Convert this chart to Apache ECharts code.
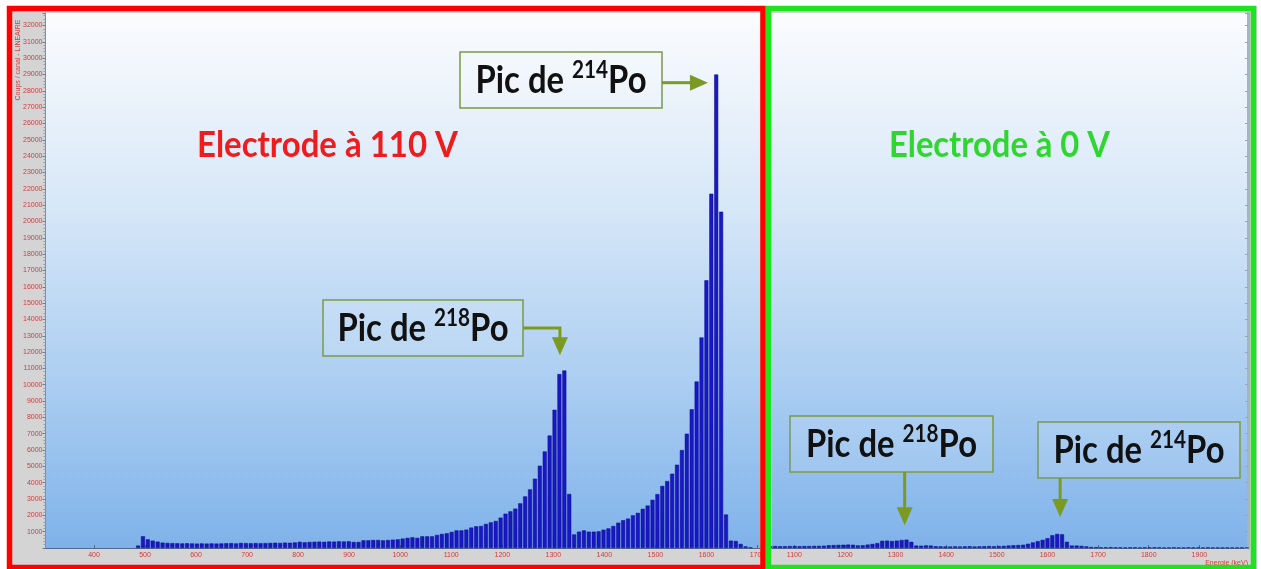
<!DOCTYPE html>
<html>
<head>
<meta charset="utf-8">
<title>Spectres alpha – électrode à 110 V et à 0 V</title>
<script src="https://cdn.jsdelivr.net/npm/echarts@6/dist/echarts.min.js"></script>
<style>
  html, body { margin: 0; padding: 0; background: #ffffff; }
  #chart { width: 1261px; height: 569px; }
</style>
</head>
<body>
<div id="chart"></div>
<script>
// ---- Spectrum data -------------------------------------------------------
// Channel groups are binWidth keV wide; index i sits at binStart + i * binWidth.
const binStart = 486.4;
const binWidth = 9.6;

// Electrode at 110 V (counts per channel group, from index 0)
const countsBiased = [
  150,
  720, 530, 450, 390, 330, 310, 300, 290, 280, 290, 280, 270, 280, 270, 280, 270, 280, 290, 300, 280,
  310, 300, 290, 300, 290, 300, 310, 320, 310, 330, 320, 340, 380, 350, 370, 380, 390, 380, 400, 390,
  410, 400, 410, 370, 370, 470, 470, 490, 490, 470, 490, 510, 530, 575, 620, 655, 620, 715, 715, 715,
  800, 860, 900, 985, 1080, 1080, 1125, 1250, 1330, 1350, 1475, 1570, 1655, 1860, 2100, 2245, 2410,
  2735, 3160, 3590, 4245, 5040, 5915, 6890, 8465, 10650, 10870, 3310,
  830, 1000, 1080, 1000, 1000, 1020, 1120, 1200, 1350, 1550, 1700, 1800, 2000, 2150, 2400, 2600,
  2950, 3300, 3800, 4100, 4550, 5100, 6000, 7000, 8500, 10200, 12900, 16400, 21700, 29000, 20600,
  2050, 450, 430, 250, 100, 40
];

// Electrode at 0 V (counts per channel group, starting at index groundedFirstBin)
const groundedFirstBin = 59;
const countsGrounded = [
  110, 120, 110, 110, 120, 120, 110, 120, 120, 130, 130, 140, 170, 180, 190, 200, 210, 200, 160, 170,
  210, 250, 300, 440, 450, 430, 450, 490, 510, 380, 150, 140, 160, 150, 110,
  100, 90, 90, 100, 90, 100, 110, 90, 100, 110, 120, 110, 120, 130,
  150, 170, 180, 200, 260, 340, 420, 500, 600, 780, 860, 840, 380, 150, 150, 130, 100, 60,
  50, 40, 40, 50, 40, 40, 30, 40, 40, 30, 40, 30, 40, 40, 30, 30, 40, 30, 30, 40, 30, 30, 30, 40,
  30, 30, 20, 30, 30, 30, 30, 20
];

// Axis ticks
const xTicksBiased = [400, 500, 600, 700, 800, 900, 1000, 1100, 1200, 1300, 1400, 1500, 1600, 1700];
const xTicksGrounded = [1100, 1200, 1300, 1400, 1500, 1600, 1700, 1800, 1900];
const yAxisName = 'Coups / canal - LINEAIRE';
const xAxisName = 'Energie (keV)';

// Peak annotations: label parts and the (energy, counts) point each arrow points to
const peakNotes = [
  { panel: 0, isotope: '214', tip: [1603, 28500], box: { x: 460, y: 52, w: 202, h: 56 }, route: 'side' },
  { panel: 0, isotope: '218', tip: [1313, 11800], box: { x: 323, y: 300, w: 200, h: 56 }, route: 'side-down' },
  { panel: 1, isotope: '218', tip: [1318, 1400], box: { x: 790, y: 416, w: 203, h: 56 }, route: 'down' },
  { panel: 1, isotope: '214', tip: [1625, 1900], box: { x: 1038, y: 422, w: 202, h: 56 }, route: 'down' }
];
const panelTitles = [
  { text: 'Electrode à 110 V', color: '#ee1c1c', cx: 327.5, cy: 145, w: 261 },
  { text: 'Electrode à 0 V', color: '#2fd62f', cx: 999.5, cy: 145, w: 221 }
];

// ---- Helpers ---------------------------------------------------------------
const toPairs = (counts, first) => counts.map((c, i) => [binStart + (first + i) * binWidth, c]);

const measureCtx = document.createElement('canvas').getContext('2d');
function textWidth(str, font) { measureCtx.font = font; return measureCtx.measureText(str).width; }

const TITLE_FONT = 'Lato, "Open Sans", "Liberation Sans", sans-serif';
const AXIS_FONT = '"Liberation Sans Narrow", "Arial Narrow", "Liberation Sans", Arial, sans-serif';
const LABEL_RED = '#d43a3a';
const ARROW = '#7a9a22';
const BOX_LINE = '#7b9a45';

const plotFill = {
  type: 'linear', x: 0, y: 0, x2: 0, y2: 1,
  colorStops: [
    { offset: 0, color: '#fbfcfe' },
    { offset: 0.35, color: '#d8e8f8' },
    { offset: 0.7, color: '#aacdf1' },
    { offset: 1, color: '#7fb2ea' }
  ]
};

const plainNumber = (v) => String(Math.round(v));
const axisLabelBase = { color: LABEL_RED, fontSize: 7, fontFamily: AXIS_FONT, formatter: plainNumber };

const chart = echarts.init(document.getElementById('chart'), null, { renderer: 'canvas', width: 1261, height: 569 });

chart.setOption({
  backgroundColor: '#ffffff',
  animation: false,
  grid: [
    { left: 45.5, top: 13, width: 714.5, height: 535, show: true, backgroundColor: plotFill, borderWidth: 0 },
    { left: 772, top: 13, width: 476, height: 535, show: true, backgroundColor: plotFill, borderWidth: 0 }
  ],
  xAxis: [
    {
      type: 'value', gridIndex: 0, min: 305, max: 1705,
      axisLine: { show: true, onZero: false, lineStyle: { color: '#53698a', width: 1 } },
      axisTick: { show: true, inside: true, length: 3, customValues: xTicksBiased, lineStyle: { color: '#53698a' } },
      axisLabel: Object.assign({ customValues: xTicksBiased, margin: 4 }, axisLabelBase),
      splitLine: { show: false }
    },
    {
      type: 'value', gridIndex: 1, min: 1056, max: 1996,
      axisLine: { show: true, onZero: false, lineStyle: { color: '#53698a', width: 1 } },
      axisTick: { show: true, inside: true, length: 3, customValues: xTicksGrounded, lineStyle: { color: '#53698a' } },
      axisLabel: Object.assign({ customValues: xTicksGrounded, margin: 4 }, axisLabelBase),
      splitLine: { show: false }
    }
  ],
  yAxis: [
    {
      type: 'value', gridIndex: 0, min: 0, max: 32768, interval: 1000,
      axisLine: { show: true, lineStyle: { color: '#7d8fa8', width: 1 } },
      axisTick: { show: true, length: 3, lineStyle: { color: '#6d7f98' } },
      minorTick: { show: true, splitNumber: 5, length: 2, lineStyle: { color: '#8d9db3' } },
      axisLabel: Object.assign({ showMinLabel: false, showMaxLabel: false, margin: 3 }, axisLabelBase),
      splitLine: { show: false }
    },
    {
      type: 'value', gridIndex: 1, position: 'right', min: 0, max: 32768, interval: 1000,
      axisLine: { show: true, lineStyle: { color: '#a9b2bf', width: 3 } },
      axisTick: { show: true, inside: true, length: 3, lineStyle: { color: '#9aa5b5' } },
      axisLabel: { show: false },
      splitLine: { show: false }
    }
  ],
  series: [
    {
      type: 'bar', xAxisIndex: 0, yAxisIndex: 0, barWidth: 4,
      data: toPairs(countsBiased, 0),
      itemStyle: { color: '#1818c6', borderColor: '#0e0e88', borderWidth: 0.5 }
    },
    {
      type: 'bar', xAxisIndex: 1, yAxisIndex: 1, barWidth: 4,
      data: toPairs(countsGrounded, groundedFirstBin),
      itemStyle: { color: '#1818c6', borderColor: '#0e0e88', borderWidth: 0.5 }
    }
  ]
});

// ---- Overlay: frames, titles, labelled arrows -----------------------------
function arrow(points, lineW, headLen, headHalf) {
  const n = points.length;
  const [x1, y1] = points[n - 2];
  const [x2, y2] = points[n - 1];
  const L = Math.hypot(x2 - x1, y2 - y1) || 1;
  const ux = (x2 - x1) / L, uy = (y2 - y1) / L;
  const bx = x2 - ux * headLen, by = y2 - uy * headLen;
  const shaft = points.slice(0, n - 1).concat([[bx + ux, by + uy]]);
  return [
    { type: 'polyline', z: 60, silent: true, shape: { points: shaft }, style: { stroke: ARROW, lineWidth: lineW, fill: null } },
    { type: 'polygon', z: 60, silent: true,
      shape: { points: [[x2, y2], [bx - uy * headHalf, by + ux * headHalf], [bx + uy * headHalf, by - ux * headHalf]] },
      style: { fill: ARROW } }
  ];
}

const NOTE_SIZE = 38, SUP_SIZE = 24;
const noteFont = (s) => `bold ${s}px ${TITLE_FONT}`;

const overlay = [
  // grey instrument background inside the frames
  { type: 'rect', z: -5, silent: true, shape: { x: 8, y: 6, width: 1249, height: 563 }, style: { fill: '#d4d4d4' } },
  // y axis name
  { type: 'text', z: 20, silent: true, x: 18, y: 60, rotation: Math.PI / 2,
    style: { text: yAxisName, fill: LABEL_RED, font: `7px ${AXIS_FONT}`, align: 'center', verticalAlign: 'middle' } },
  // x axis name of the right panel
  { type: 'text', z: 20, silent: true, x: 1248, y: 563,
    style: { text: xAxisName, fill: LABEL_RED, font: `7px ${AXIS_FONT}`, align: 'right', verticalAlign: 'middle' } }
];

panelTitles.forEach((t) => {
  const f = `bold 36px ${TITLE_FONT}`;
  const s = t.w / textWidth(t.text, f);
  overlay.push({ type: 'text', z: 40, silent: true, x: t.cx, y: t.cy, scaleX: s,
    style: { text: t.text, fill: t.color, font: f, align: 'center', verticalAlign: 'middle' } });
});

peakNotes.forEach((p) => {
  const b = p.box;
  overlay.push({ type: 'rect', z: 45, silent: true, shape: { x: b.x, y: b.y, width: b.w, height: b.h },
    style: { fill: 'rgba(255,255,255,0.12)', stroke: BOX_LINE, lineWidth: 1.5 } });
  const w = textWidth('Pic de ', noteFont(NOTE_SIZE)) + textWidth(p.isotope, noteFont(SUP_SIZE)) + textWidth('Po', noteFont(NOTE_SIZE));
  overlay.push({ type: 'text', z: 46, silent: true, x: b.x + b.w / 2, y: b.y + b.h / 2 + 1, scaleX: 171 / w,
    style: {
      text: `{a|Pic de }{s|${p.isotope}}{a|Po}`, align: 'center', verticalAlign: 'middle',
      rich: {
        a: { fontFamily: TITLE_FONT, fontWeight: 'bold', fontSize: NOTE_SIZE, lineHeight: 46, fill: '#111111' },
        s: { fontFamily: TITLE_FONT, fontWeight: 'bold', fontSize: SUP_SIZE, lineHeight: 26, verticalAlign: 'top', fill: '#111111' }
      }
    } });
  const tip = chart.convertToPixel({ gridIndex: p.panel }, p.tip);
  let pts;
  if (p.route === 'side') pts = [[b.x + b.w, tip[1]], tip];
  else if (p.route === 'side-down') { const yy = b.y + b.h / 2; pts = [[b.x + b.w, yy], [tip[0], yy], tip]; }
  else pts = [[tip[0], b.y + b.h], tip];
  arrow(pts, 3, 18, 8).forEach((e) => overlay.push(e));
});

// coloured frames
overlay.push({ type: 'rect', z: 90, silent: true, shape: { x: 9.5, y: 8.5, width: 753.5, height: 559 }, style: { fill: null, stroke: '#ff0000', lineWidth: 5.5 } });
overlay.push({ type: 'rect', z: 91, silent: true, shape: { x: 768.5, y: 8.5, width: 485, height: 559 }, style: { fill: null, stroke: '#1de51d', lineWidth: 5.5 } });

chart.setOption({ graphic: { elements: overlay } });
</script>
</body>
</html>
